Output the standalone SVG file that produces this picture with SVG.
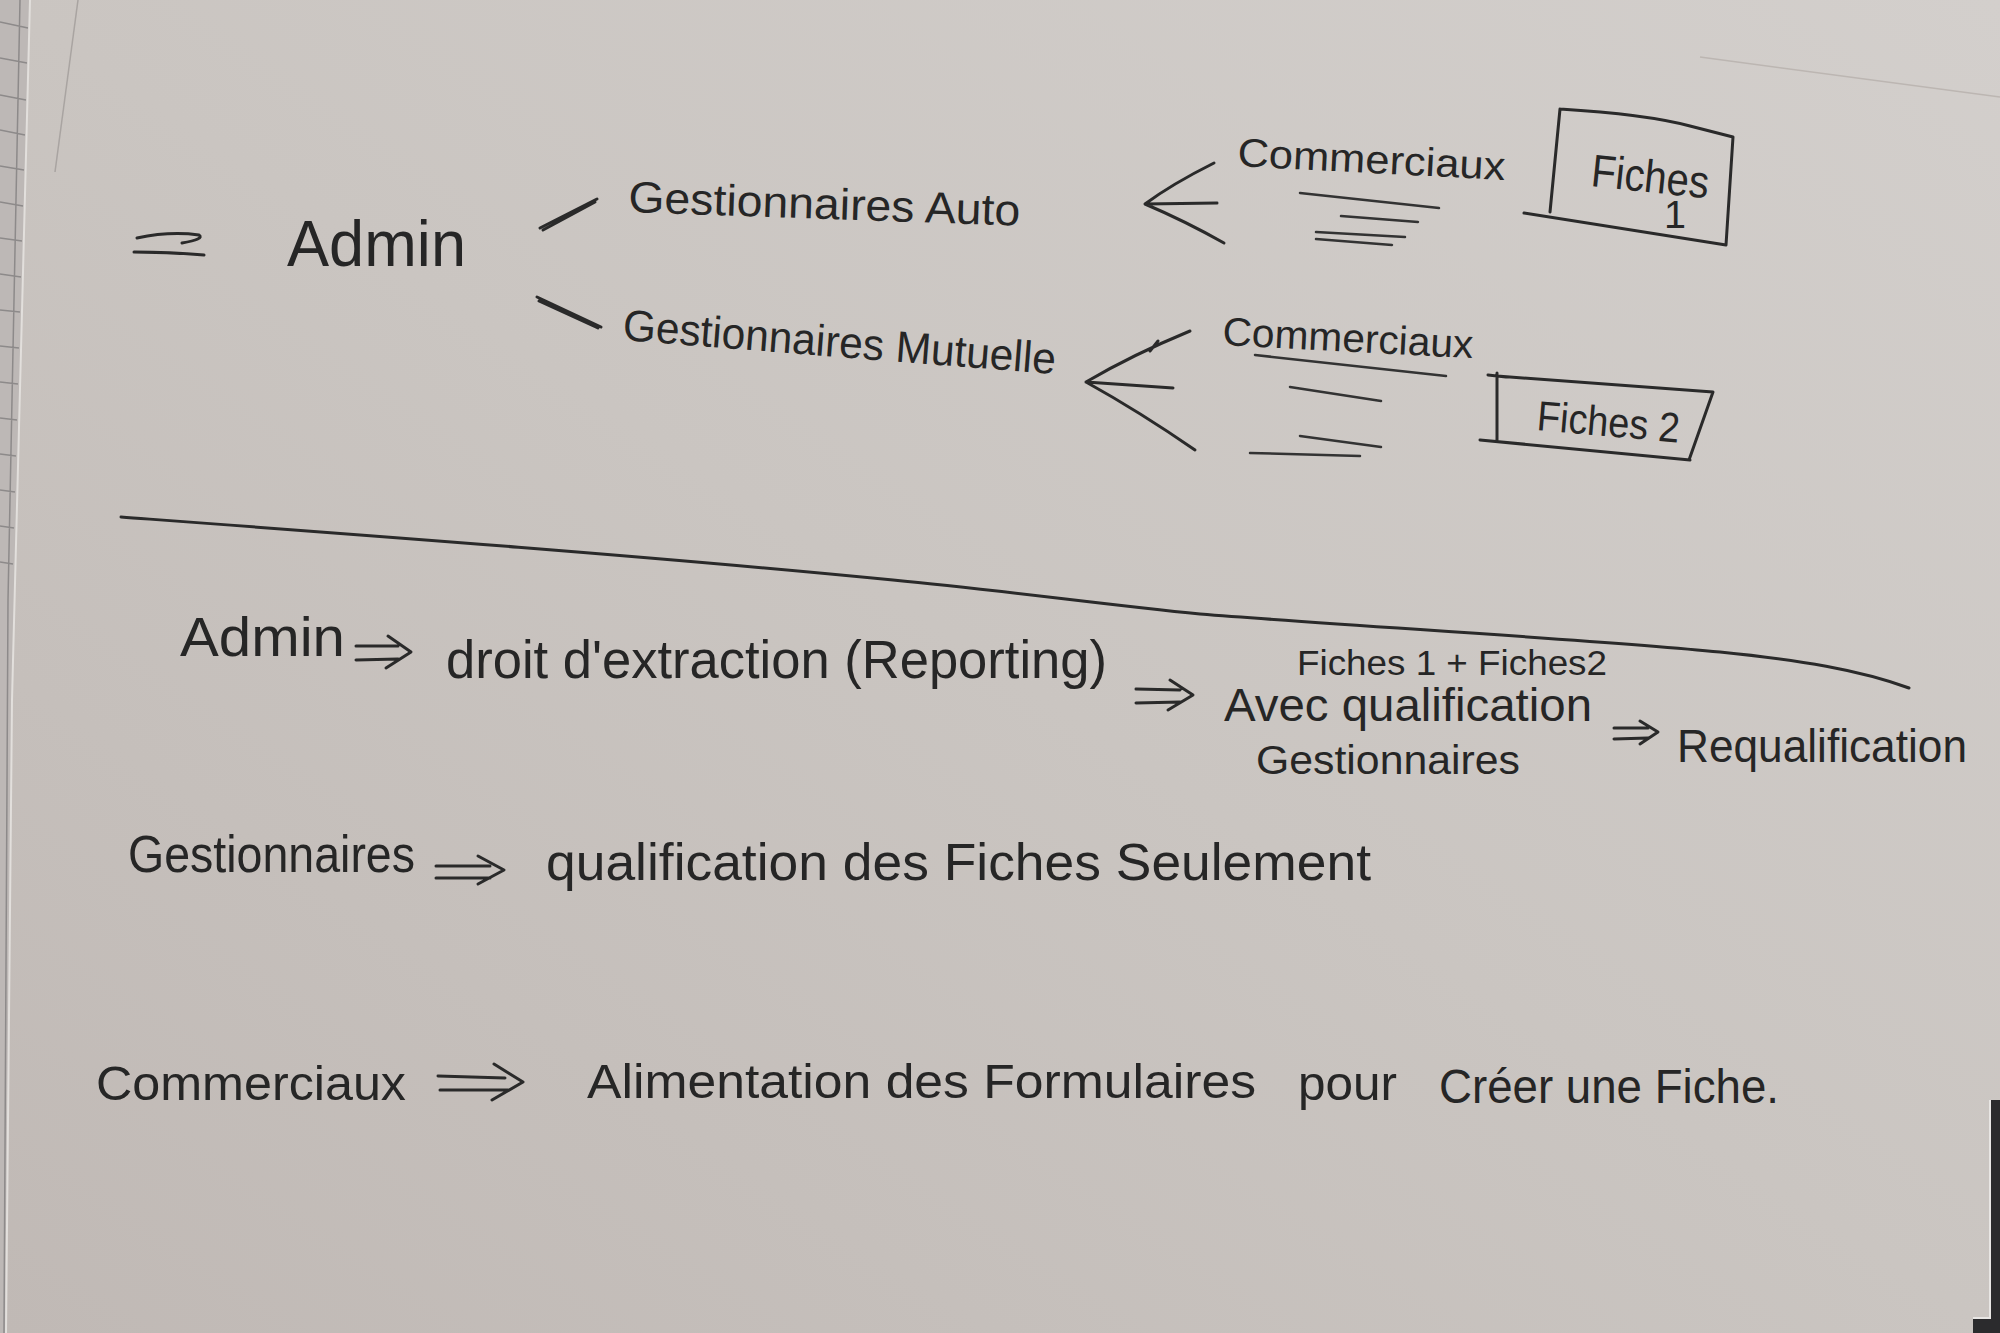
<svg xmlns="http://www.w3.org/2000/svg" width="2000" height="1333" viewBox="0 0 2000 1333">
<defs>
<linearGradient id="paper" x1="1" y1="0" x2="0" y2="1">
<stop offset="0" stop-color="#d3cfcc"/>
<stop offset="0.5" stop-color="#cac5c1"/>
<stop offset="1" stop-color="#c0b9b5"/>
</linearGradient>
<style>
.ink{fill:none;stroke:#2a2a2a;stroke-width:3;stroke-linecap:round;stroke-linejoin:round}
.thin{fill:none;stroke:#333;stroke-width:2.5;stroke-linecap:round;stroke-linejoin:round}
.t{font-family:"Liberation Sans","DejaVu Sans",sans-serif;fill:#262626;font-weight:normal}
.grid{stroke:#8d8a8a;stroke-width:1.5;fill:none}
</style>
</defs>
<rect width="2000" height="1333" fill="url(#paper)"/>
<!-- left grid paper strip -->
<path d="M0,0 L30,0 L12,700 L6,1333 L0,1333 Z" fill="#bdb8b6"/>
<path class="grid" d="M0,22 L28,28 M0,58 L27,63 M0,95 L26,100 M0,130 L25,135 M0,166 L24,170 M0,202 L23,206 M0,238 L22,241 M0,274 L21,277 M0,310 L20,312 M0,346 L19,348 M0,382 L18,384 M0,418 L17,420 M0,454 L16,456 M0,490 L15,492 M0,526 L14,528 M0,562 L13,564 M20,0 L8,600 L4,1333"/>
<path d="M30,0 L12,700 L6,1333" stroke="#e2dfdc" stroke-width="2" fill="none"/>
<path d="M78,0 L55,172" stroke="#a9a4a1" stroke-width="1.5" fill="none"/>
<path d="M1700,57 L2000,97" stroke="#bcb6b2" stroke-width="1.5" fill="none"/>
<!-- bottom right dark edge -->
<path d="M1991,1100 L2000,1100 L2000,1333 L1973,1333 L1973,1318 L1991,1318 Z" fill="#2b2b2d"/>
<path d="M1990,1100 L1990,1318 L1973,1318" stroke="#e8e6e4" stroke-width="2" fill="none"/>

<!-- top diagram nodes -->
<g id="admin-top">
<path class="ink" d="M137,238 Q170,231 199,235 Q205,239 182,243"/>
<path class="ink" d="M134,252 Q170,252 204,255"/>
<text class="t" x="287" y="266" font-size="64" textLength="179" lengthAdjust="spacingAndGlyphs">Admin</text>
</g>
<g id="gest-auto">
<text class="t" x="628" y="212" font-size="44" textLength="392" lengthAdjust="spacingAndGlyphs" transform="rotate(2 628 212)">Gestionnaires Auto</text>
</g>
<g id="gest-mutuelle">
<text class="t" x="622" y="340" font-size="44" textLength="434" lengthAdjust="spacingAndGlyphs" transform="rotate(4.5 622 340)">Gestionnaires Mutuelle</text>
</g>
<g id="commerciaux-1">
<text class="t" x="1237" y="166" font-size="40" textLength="268" lengthAdjust="spacingAndGlyphs" transform="rotate(3 1237 166)">Commerciaux</text>
<path class="thin" d="M1300,193 L1439,208 M1341,216 L1418,222 M1316,232 L1405,237 M1316,239 L1392,245"/>
</g>
<g id="commerciaux-2">
<text class="t" x="1222" y="345" font-size="40" textLength="251" lengthAdjust="spacingAndGlyphs" transform="rotate(3 1222 345)">Commerciaux</text>
<path class="thin" d="M1255,355 L1446,376 M1290,387 L1381,401 M1300,436 L1381,447 M1250,453 L1360,456"/>
</g>
<g id="fiches-1">
<path class="ink" d="M1560,109 C1610,112 1660,118 1690,126 L1733,137 L1726,245 M1524,213 L1726,245 M1560,109 L1550,212"/>
<text class="t" x="1590" y="186" font-size="46" textLength="118" lengthAdjust="spacingAndGlyphs" transform="rotate(6 1590 186)">Fiches</text>
<text class="t" x="1664" y="228" font-size="38" textLength="22" lengthAdjust="spacingAndGlyphs">1</text>
</g>
<g id="fiches-2">
<path class="ink" d="M1488,375 L1506,377 M1497,373 L1497,440 M1497,376 L1713,392 L1689,460 M1480,440 L1690,460"/>
<text class="t" x="1536" y="430" font-size="42" textLength="143" lengthAdjust="spacingAndGlyphs" transform="rotate(5 1536 430)">Fiches 2</text>
</g>

<!-- connectors -->
<g id="connectors">
<path class="ink" d="M540,228 L597,199 M543,230 L595,202"/>
<path class="ink" d="M537,297 L601,327 M539,301 L598,328"/>
<path class="ink" d="M1214,163 Q1172,184 1145,204 Q1185,221 1224,243 M1145,204 L1217,203"/>
<path class="ink" d="M1190,331 Q1132,355 1086,382 Q1140,412 1195,450 M1086,382 L1173,388 M1158,341 L1150,351"/>
<!-- divider -->
<path class="ink" d="M121,517 C350,534 650,556 893,580 C1000,590 1100,604 1200,614 C1350,626 1600,640 1720,652 C1800,660 1860,670 1909,688"/>
<!-- implication arrows -->
<path class="ink" d="M356,646 L398,646 M356,660 L398,659 M388,636 L411,652 L386,668"/>
<path class="ink" d="M1136,689 L1180,690 M1136,703 L1180,702 M1170,680 L1193,695 L1168,710"/>
<path class="ink" d="M1614,728 L1648,728 M1614,739 L1648,738 M1640,721 L1658,732 L1640,744"/>
<path class="ink" d="M436,866 L490,866 M436,878 L490,878 M478,856 L504,870 L478,884"/>
<path class="ink" d="M438,1076 L505,1078 M440,1090 L508,1090 M494,1064 L523,1082 L492,1100"/>
</g>

<!-- bottom rules -->
<g id="rule-admin">
<text class="t" x="180" y="656" font-size="56" textLength="165" lengthAdjust="spacingAndGlyphs">Admin</text>
<text class="t" x="446" y="678" font-size="54" textLength="661" lengthAdjust="spacingAndGlyphs">droit d'extraction (Reporting)</text>
</g>
<g id="rule-avec">
<text class="t" x="1297" y="675" font-size="35" textLength="310" lengthAdjust="spacingAndGlyphs">Fiches 1 + Fiches2</text>
<text class="t" x="1224" y="721" font-size="46" textLength="368" lengthAdjust="spacingAndGlyphs">Avec qualification</text>
<text class="t" x="1256" y="774" font-size="40" textLength="264" lengthAdjust="spacingAndGlyphs">Gestionnaires</text>
</g>
<g id="rule-requalif">
<text class="t" x="1677" y="762" font-size="47" textLength="290" lengthAdjust="spacingAndGlyphs">Requalification</text>
</g>
<g id="rule-gestionnaires">
<text class="t" x="128" y="872" font-size="52" textLength="287" lengthAdjust="spacingAndGlyphs">Gestionnaires</text>
<text class="t" x="546" y="880" font-size="52" textLength="825" lengthAdjust="spacingAndGlyphs">qualification des Fiches Seulement</text>
</g>
<g id="rule-commerciaux">
<text class="t" x="96" y="1100" font-size="48" textLength="310" lengthAdjust="spacingAndGlyphs">Commerciaux</text>
<text class="t" x="587" y="1098" font-size="48" textLength="669" lengthAdjust="spacingAndGlyphs">Alimentation des Formulaires</text>
<text class="t" x="1298" y="1100" font-size="48" textLength="99" lengthAdjust="spacingAndGlyphs">pour</text>
<text class="t" x="1439" y="1103" font-size="48" textLength="340" lengthAdjust="spacingAndGlyphs">Créer une Fiche.</text>
</g>
</svg>
